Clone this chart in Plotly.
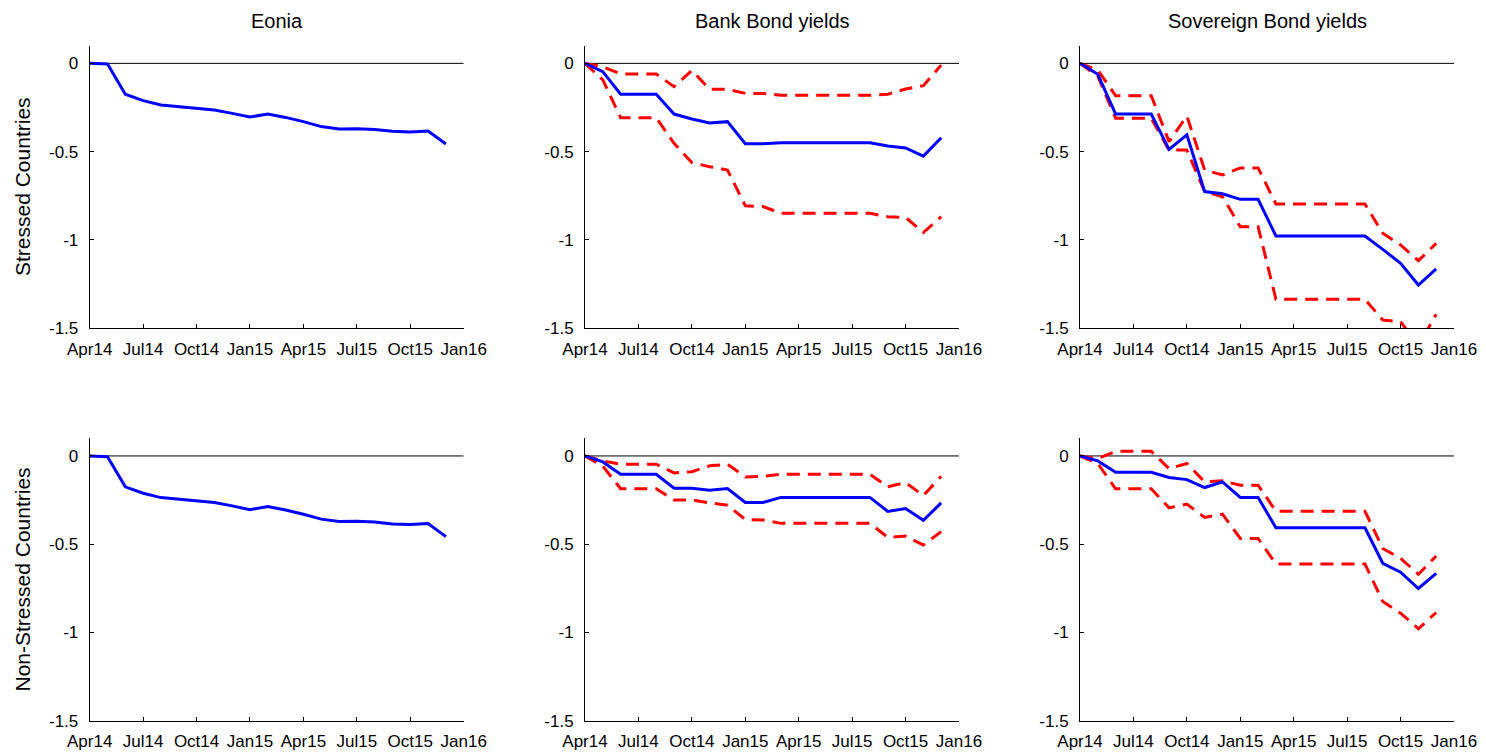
import plotly.graph_objects as go

# Monthly observations, Apr14 .. Dec15 (month index 0..20)
months = list(range(21))
tick_pos = [0, 3, 6, 9, 12, 15, 18, 21]
tick_labels = ["Apr14", "Jul14", "Oct14", "Jan15", "Apr15", "Jul15", "Oct15", "Jan16"]

col_titles = ["Eonia", "Bank Bond yields", "Sovereign Bond yields"]
row_titles = ["Stressed Countries", "Non-Stressed Countries"]

eonia = [0.0, -0.004, -0.175, -0.211, -0.236, -0.245, -0.257, -0.264, -0.283, -0.304,
         -0.287, -0.306, -0.330, -0.358, -0.372, -0.370, -0.374, -0.385, -0.389, -0.383, -0.457]

bank_stressed = [0.0, -0.047, -0.175, -0.175, -0.175, -0.287, -0.315, -0.338, -0.330, -0.455,
                 -0.455, -0.449, -0.449, -0.449, -0.449, -0.449, -0.449, -0.468, -0.479, -0.525, -0.421]
bank_stressed_hi = [0.0, -0.019, -0.060, -0.060, -0.060, -0.132, -0.040, -0.147, -0.147, -0.170,
                    -0.170, -0.181, -0.181, -0.181, -0.181, -0.181, -0.181, -0.175, -0.145, -0.126, -0.010]
bank_stressed_lo = [0.0, -0.094, -0.308, -0.308, -0.308, -0.453, -0.562, -0.585, -0.604, -0.806,
                    -0.811, -0.849, -0.849, -0.849, -0.849, -0.849, -0.849, -0.868, -0.872, -0.958, -0.868]

sov_stressed = [0.0, -0.062, -0.287, -0.287, -0.287, -0.487, -0.404, -0.726, -0.738, -0.770,
                -0.770, -0.977, -0.977, -0.977, -0.977, -0.977, -0.977, -1.053, -1.132, -1.255, -1.164]
sov_stressed_hi = [0.0, -0.038, -0.183, -0.183, -0.183, -0.443, -0.298, -0.604, -0.632, -0.592,
                   -0.592, -0.796, -0.796, -0.796, -0.796, -0.796, -0.796, -0.962, -1.028, -1.117, -1.019]
sov_stressed_lo = [0.0, -0.072, -0.311, -0.311, -0.311, -0.491, -0.491, -0.726, -0.755, -0.925,
                   -0.925, -1.336, -1.336, -1.336, -1.336, -1.336, -1.336, -1.453, -1.462, -1.600, -1.420]

bank_nonstressed = [0.0, -0.034, -0.104, -0.104, -0.104, -0.183, -0.183, -0.194, -0.185, -0.264,
                    -0.264, -0.235, -0.235, -0.235, -0.235, -0.235, -0.235, -0.314, -0.298, -0.365, -0.266]
bank_nonstressed_hi = [0.0, -0.028, -0.047, -0.047, -0.047, -0.096, -0.089, -0.056, -0.047, -0.119,
                       -0.115, -0.104, -0.104, -0.104, -0.104, -0.104, -0.104, -0.175, -0.151, -0.224, -0.115]
bank_nonstressed_lo = [0.0, -0.058, -0.186, -0.186, -0.186, -0.249, -0.249, -0.266, -0.279, -0.360,
                       -0.363, -0.382, -0.382, -0.382, -0.382, -0.382, -0.382, -0.461, -0.454, -0.505, -0.429]

sov_nonstressed = [0.0, -0.028, -0.092, -0.092, -0.092, -0.122, -0.134, -0.179, -0.147, -0.235,
                   -0.235, -0.407, -0.407, -0.407, -0.407, -0.407, -0.407, -0.608, -0.659, -0.751, -0.665]
sov_nonstressed_hi = [0.0, -0.015, 0.026, 0.026, 0.026, -0.072, -0.043, -0.147, -0.141, -0.166,
                      -0.166, -0.313, -0.313, -0.313, -0.313, -0.313, -0.313, -0.524, -0.580, -0.670, -0.567]
sov_nonstressed_lo = [0.0, -0.043, -0.186, -0.186, -0.186, -0.294, -0.273, -0.348, -0.330, -0.467,
                      -0.467, -0.612, -0.612, -0.612, -0.612, -0.612, -0.612, -0.825, -0.891, -0.979, -0.887]

y_ticks = [0, -0.5, -1, -1.5]
y_tick_labels = ["0", "-0.5", "-1", "-1.5"]

# panels: (row, col, central estimate, upper band, lower band)
panels = [
    (0, 0, eonia, None, None),
    (0, 1, bank_stressed, bank_stressed_hi, bank_stressed_lo),
    (0, 2, sov_stressed, sov_stressed_hi, sov_stressed_lo),
    (1, 0, eonia, None, None),
    (1, 1, bank_nonstressed, bank_nonstressed_hi, bank_nonstressed_lo),
    (1, 2, sov_nonstressed, sov_nonstressed_hi, sov_nonstressed_lo),
]

W, H = 1486, 753
x_px = [(89.7, 463.7), (585.0, 959.0), (1080.0, 1454.0)]
y_px = [(45.7, 328.3), (438.3, 720.7)]

FONT = "Liberation Sans, Arial, sans-serif"
BLUE = "#0000FF"
RED = "#FF0000"

fig = go.Figure()
layout = {}

for i, (r, c, mid, hi, lo) in enumerate(panels):
    n = i + 1
    xa = "x" if n == 1 else f"x{n}"
    ya = "y" if n == 1 else f"y{n}"
    # zero reference line
    fig.add_trace(go.Scatter(x=[0, 21], y=[0, 0], xaxis=xa, yaxis=ya, mode="lines",
                             line=dict(color="black", width=1), showlegend=False, hoverinfo="skip"))
    for band in (hi, lo):
        if band is not None:
            fig.add_trace(go.Scatter(x=months, y=band, xaxis=xa, yaxis=ya, mode="lines",
                                     line=dict(color=RED, width=3, dash="13px,8px"),
                                     showlegend=False))
    fig.add_trace(go.Scatter(x=months, y=mid, xaxis=xa, yaxis=ya, mode="lines",
                             line=dict(color=BLUE, width=3), showlegend=False))

    x0, x1 = x_px[c]
    yt, yb = y_px[r]
    layout["xaxis" if n == 1 else f"xaxis{n}"] = dict(
        domain=[x0 / W, x1 / W], anchor=ya, range=[0, 21], automargin=False,
        tickvals=tick_pos, ticktext=tick_labels, ticks="inside", ticklen=4,
        tickcolor="black", showline=True, linecolor="black", linewidth=1,
        showgrid=False, zeroline=False, ticklabelstandoff=5,
        tickfont=dict(family=FONT, size=17, color="black"), fixedrange=True,
    )
    layout["yaxis" if n == 1 else f"yaxis{n}"] = dict(
        domain=[1 - yb / H, 1 - yt / H], anchor=xa, range=[-1.5, 0.1], automargin=False,
        tickvals=y_ticks, ticktext=y_tick_labels, ticks="inside", ticklen=4,
        tickcolor="black", showline=True, linecolor="black", linewidth=1,
        showgrid=False, zeroline=False, ticklabelstandoff=7,
        tickfont=dict(family=FONT, size=17, color="black"), fixedrange=True,
    )

annotations = []
for c, t in enumerate(col_titles):
    x0, x1 = x_px[c]
    annotations.append(dict(text=t, x=(x0 + x1) / 2 / W, y=1 - 21 / H, xref="paper", yref="paper",
                            showarrow=False, xanchor="center", yanchor="middle",
                            font=dict(family=FONT, size=20, color="black")))
for r, t in enumerate(row_titles):
    yt, yb = y_px[r]
    annotations.append(dict(text=t, x=22 / W, y=1 - (yt + yb) / 2 / H, xref="paper", yref="paper",
                            showarrow=False, textangle=-90, xanchor="center", yanchor="middle",
                            font=dict(family=FONT, size=21, color="black")))

fig.update_layout(
    width=W, height=H, margin=dict(l=0, r=0, t=0, b=0, autoexpand=False),
    paper_bgcolor="white", plot_bgcolor="white",
    annotations=annotations, showlegend=False, **layout,
)

fig.write_html("out.html", config={"displayModeBar": False})
